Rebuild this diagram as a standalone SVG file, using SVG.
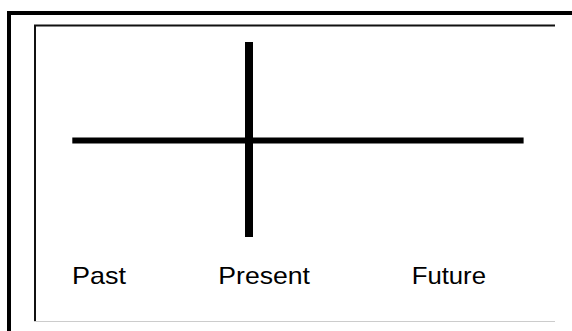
<svg xmlns="http://www.w3.org/2000/svg" width="572" height="331" viewBox="0 0 572 331">
<style>
.lbl{font-family:"Liberation Sans",Arial,sans-serif;font-size:24px;fill:#000}
.axis{fill:#000}
</style>
<rect width="572" height="331" fill="#fff"/>
<g id="frame">
<rect x="7" y="11" width="565" height="4" fill="#000"/>
<rect x="7" y="11" width="4" height="320" fill="#000"/>
<line x1="34" y1="25.5" x2="555" y2="25.5" stroke="#111" stroke-width="2.2"/>
<line x1="35" y1="25" x2="35" y2="321" stroke="#111" stroke-width="2"/>
<line x1="34" y1="321.5" x2="555" y2="321.5" stroke="#ccc" stroke-width="1"/>
</g>
<g id="connectors">
<rect class="axis" x="72.3" y="137.5" width="451.3" height="6"/>
<rect class="axis" x="245" y="42" width="8" height="195"/>
</g>
<g id="past"><text class="lbl" x="72" y="284.3" textLength="54" lengthAdjust="spacingAndGlyphs">Past</text></g>
<g id="present"><text class="lbl" x="218.3" y="284.3" textLength="91.7" lengthAdjust="spacingAndGlyphs">Present</text></g>
<g id="future"><text class="lbl" x="411.7" y="284.3" textLength="74.3" lengthAdjust="spacingAndGlyphs">Future</text></g>
</svg>
